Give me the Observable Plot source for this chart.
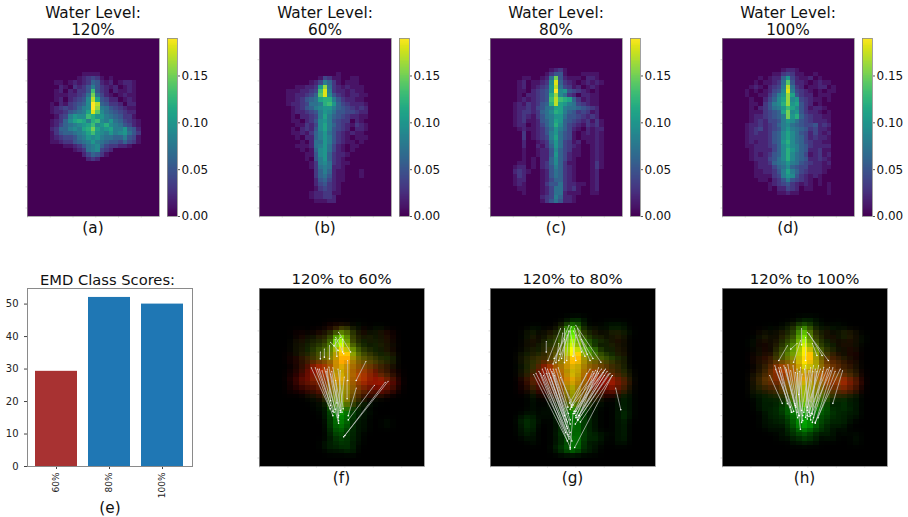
<!DOCTYPE html>
<html><head><meta charset="utf-8">
<script src="https://cdn.jsdelivr.net/npm/d3@7"></script>
<script src="https://cdn.jsdelivr.net/npm/@observablehq/plot@0.6"></script>
<style>
html,body{margin:0;padding:0;background:#fff}
#fig{position:relative;width:908px;height:517px;overflow:hidden;font-family:"DejaVu Sans",sans-serif;color:#111}
#fig svg{position:absolute;background:transparent;max-width:none}
.t{position:absolute;text-align:center;font-size:15.3px;line-height:17px;white-space:nowrap;transform:translateX(-50%)}
</style></head><body><div id="fig"></div>
<script>
// Heatmap cells: rows of columns 5..24, starting at row firstRow; each char = value in 0.01 (base 36)
const firstCol = 5, nCols = 29, nRows = 42;
const level120 = {firstRow: 8, rows: [
"00000001111000000000","00000012343101000000","01101212365212012210","00210323585321201210",
"012021335d5320211210","011122347f7421012110","012023459hb542201210","102134569jh653320220",
"123434689jg875432110","12235678bie976543220","01348a99dcaa87653310","12369bcb8cd98a764321",
"1246789abd9ac9875421","2366898bcfb9ab88a652","13566789bda98a89a753","12344578a9a877668541",
"112335678a8765546431","00011235789643322100","00000123789432000000","00000002465310000000","00000000232000000000"]};
const level60 = {firstRow: 8, rows: [
"00000000000010000000","00000000143110011000","00000012486310111000","00011223ag7321211100",
"01112234di8322121100","01122346ei9532122110","01123567bcc853221100","012234778cda64322210",
"001235689aa865432320","001223458a9755443220","001022348b8654322110","001102359a8543302100",
"000113249b8643213210","001023259b8543202210","001121368a7532121100","000102268a8532101110",
"000010277a8532110100","000111278a7421011000","000010169a7421010000","000001159a6322100000",
"000001058a6321000000","00000013897321100000","00000013787221000000","00000003686211000100",
"00000003675211000100","00000002564211000000","00000002453210000000","00000001343210000000",
"00000012233110000000","00000012233200000000","00000001112200000000"]};
const level80 = {firstRow: 7, rows: [
"00000000123100000000","00000001355100011110","001100127f5211102210","012011239i6321012121",
"01201234ah7431201210","01102345aj9a54321010","01022345cg9732022110","01212345dhdcb6312110",
"12132356chba87432110","122324578bb877654320","123323679cb865343120","123213578aa755432320",
"123112568ba654323131","122012468c9643213231","012112357a8642102122","003012358a7541012121",
"003012348b7541011121","002001237a7431201121","002002136a7432100121","00100122596431100121",
"001001225a6421100121","00101022696421000121","01101023696311000131","12201023586321000131",
"23210012576321000120","13200012576321000120","12200012466321000120","12100013557322110120",
"01100012477323100120","00100012477211100110","00000023486221000000","00000013575221000000"]};
const level100 = {firstRow: 7, rows: [
"00000000122100000000","00000011343110010000","000101226a4211201000","001011237e5221012110",
"012102348h7320112201","101012459i8432101011","10011358agb532201110","01002469bg9a43211010",
"01103589cgab53201000","01023578adb953122100","01113456bf9a53221010","012234568fac64322110",
"012324458a9754322210","12232346897654452320","123423458a8765342210","123223569b9754242120",
"122223569b9764232210","12122356ac9764322110","112223469b9865322220","012222469ca865223110",
"012123569c9764123120","012224579c9765223210","001223678a8754322120","00122246796544222110",
"001122358b8643222100","001111348a9532121000","00011023585432101000","00000123453212101010",
"00000102243201100010","00000001121100000010"]};

// Match lines between the 120% map and the other map: [col1,row1,col2,row2]
const lines60 = [[22.6,21.9,14.8,35],[22.1,22.1,15,34.7],[20.2,22.8,15.6,31],[18.7,17.2,17,21.7],[17,23.5,15.6,30],
[9.1,18.7,12.4,28.4],[9.8,18.7,12.9,30],[10.5,19,12.5,27.6],[11.4,18.7,13.9,31.8],[12.2,18.5,13.8,30.4],[12.9,18.7,14.5,29.2],
[13.8,19,14.7,28.4],[14.2,19.4,13.9,30],[11,19.4,13.1,29.2],[11.9,19,12.5,26.5],[12.5,20.2,14.2,28.8],[13.4,21.7,13.9,31.2],
[14.9,20.9,14.2,29.2],[15.4,21.7,15.4,26],[13.9,10.3,16,15],[13.4,11.5,14.8,15.4],[12.5,12.7,13.8,14.6],[14.2,11.5,13.1,13.5],
[12.3,13.5,12.3,16.6],[11.4,14.3,11.4,16.2],[10.7,15,10.7,16.6],[15.5,17,15.5,21.7],[10.2,19,12.9,29],[11.7,19.5,13.3,28.5],[12.7,19.5,13.6,27],[13.3,12,13.6,16],[14.6,12,14.6,15]];
const lines80 = [[7.6,20.3,13.5,36],[8.5,19.5,14,37.5],[9.1,19,13.8,35],[9.6,18.7,13.5,33],[10,19,13.3,31],[10.5,19,14,32],
[11,19,13.7,29.5],[10.6,21,13,30],[11.5,19,13.6,28],[9.3,20.5,13.2,34],[11.9,18.7,14.3,28],[11,20,14,34],[12.3,21,14.5,27.5],[10.3,20,14.3,36],
[21.4,20.5,15.8,31.5],[21,20,14.9,32],[20.5,19.5,15.2,30.5],[20,19.3,14.7,29],[19.5,19,14.2,28],[19,18.7,15.3,31],[18.5,19.3,14.2,27.5],
[18,19.5,14.6,29.5],[17.5,19,13.9,27],[21.4,20.5,14.8,37.5],[16.9,20,14,28.5],[20,20.5,15.6,30],[19,20,15,30],[14.5,29.5,14,37.9],[22,23.5,22.9,28.6],
[12.3,9.5,10.1,17],[13.8,8.7,11,17.8],[15,8.7,19.4,17.4],[13,9.5,13,17.5],[14.2,9,12,17],[14.8,9.5,16,15],[15.5,11,17.5,17],[14,10,15,17],
[13.5,11,12.5,16.5],[16,12,18,16.5],[15,11,14.5,16],[12,13,11.5,17.5],[9.8,12.5,9.8,15],
[8,20,13.8,35.5],[8.8,20,13.6,34.5],[9.8,20,13.4,32.5],[10.8,19.6,13.5,31.5],[11.2,20.5,14,31],[20.7,20.2,15.4,31],[19.8,19.8,15,29],[18.8,19.6,14.8,29.5],[20.2,19,15.5,30],[18.2,20,15,30.5],
[12.7,10.5,12.2,15.5],[13.7,10,13.4,17],[14.6,10,16.6,16],[15.3,9.5,17,15.5],[13,12,11.2,16.5]];
const lines100 = [[8.3,20.5,10.5,27.1],[9.2,18.2,12.1,29.2],[9.9,18.7,11.4,27.2],[10.8,18.2,13.1,29.2],[11.5,18,12.8,27.6],[12.4,18.2,13.7,33.2],
[13.1,19,13.9,31.6],[13.7,18.6,14.1,30],[14.6,18.2,14.9,30.8],[16,18.2,14.3,29.2],[16.9,18.2,14.9,30],[17.8,18.6,15.8,31.6],[19.4,18.7,16.3,31.8],
[20.7,19,16.3,31.6],[21.1,19.4,19.4,27.1],[19,19.4,15.5,30],[18.4,19,15.2,29.2],[9.3,19,11.9,28],[10.2,18.6,12.2,29.2],[11.1,18.7,12.7,27.2],
[12,19.4,13.4,30],[12.8,19.8,14.1,31.2],[15.5,18.7,14.6,30.4],[16.3,19,15.8,29.6],[17.2,19,14.9,28],[15.2,19.4,13.9,28.8],[14,20.2,13.4,25],
[14.9,10.3,18.6,17],[15.2,10.7,17.5,15.8],[13.7,12.3,12.5,17.4],[11.4,13.5,9.9,17],[14.6,11.5,14.6,17],[13.9,9.5,13.9,13.3],[13.1,13,12,14.3],[15.8,13,16.6,15.8],
[10,19.5,12.5,29],[11.2,19.2,13.2,30.5],[13.5,19.5,13.5,30],[14.4,19,15.5,31],[16.6,19.5,15.2,30.2],[17.6,19.6,15.6,29.5],[18.8,18.6,16,30.5],[19.8,19.5,16.8,30.5],[15.9,19.6,14.9,28.8],[13.2,20,12.9,28]];

const scoreClasses = ["60%","80%","100%"];
const scoreValues = [29.3,52.05,50];
const scoreColors = ["#a83232","#1f77b4","#1f77b4"];
const colorTicks = [0,0.05,0.1,0.15];
const topTitles = ["120%","60%","80%","100%"];

const fig = document.getElementById("fig");
function cellsOf(level){
  const m = new Map();
  level.rows.forEach((s,i)=>{ [...s].forEach((ch,j)=>{ m.set((j+firstCol)+","+(i+level.firstRow), parseInt(ch,36)/100); }); });
  return m;
}
// The composites in the reference are softer than the maps above: a light 3x3 smoothing of the same cells
function softened(m){
  const w=[1,3,1], out=new Map();
  for(const [c,r] of d3.cross(d3.range(nCols),d3.range(nRows))){
    let s=0;
    for(let i=-1;i<=1;i++)for(let j=-1;j<=1;j++) s+=w[i+1]*w[j+1]*(m.get((c+i)+","+(r+j))||0);
    out.set(c+","+r,s/25);
  }
  return out;
}
const allCells = d3.cross(d3.range(nCols), d3.range(nRows));
const xTicks = d3.range(0,nCols,5), yTicks = d3.range(5,nRows,5);
const tickMarks = (W,H)=>[
  Plot.ruleX(xTicks,{x:d=>d,stroke:"#d8d8d8",insetTop:H,insetBottom:-1.5}),
  Plot.ruleY(yTicks,{y:d=>d,stroke:"#d8d8d8",insetRight:W,insetLeft:-1.5})
];
function place(svg,l,t){ svg.style.left=l+"px"; svg.style.top=t+"px"; fig.appendChild(svg); }
function label(txt,cx,y,size){ const d=document.createElement("div"); d.className="t"; d.style.left=cx+"px"; d.style.top=y+"px"; if(size) d.style.fontSize=size+"px"; d.innerHTML=txt; fig.appendChild(d); }

function heat(level,x0){
  const m = cellsOf(level);
  const data = allCells.map(([c,r])=>({c,r,v:m.get(c+","+r)||0}));
  place(Plot.plot({width:136,height:182,marginLeft:3,marginRight:1,marginTop:1,marginBottom:3,
    x:{domain:[0,nCols],axis:null},y:{domain:[nRows,0],axis:null},
    color:{type:"linear",scheme:"viridis",domain:[0,0.19]},
    marks:[
      Plot.rect(data,{x1:"c",x2:d=>d.c+1,y1:"r",y2:d=>d.r+1,fill:"v",shapeRendering:"crispEdges"}),
      ...tickMarks(132,178),
      Plot.frame({stroke:"#8a8a8a",strokeWidth:0.7})
    ]}),x0-3,37);
  const steps = d3.range(0,0.19,0.001);
  place(Plot.plot({width:52,height:186,marginLeft:1,marginRight:41,marginTop:1,marginBottom:7,
    x:{domain:[0,1],axis:null},y:{domain:[0,0.19],axis:null},
    color:{type:"linear",scheme:"viridis",domain:[0,0.19]},
    marks:[
      Plot.rect(steps,{x1:0,x2:1,y1:d=>d,y2:d=>d+0.001,fill:d=>d,shapeRendering:"crispEdges"}),
      Plot.axisY({ticks:colorTicks,anchor:"right",tickFormat:".2f",tickSize:2,tickPadding:2,label:null,fontSize:12,color:"#111",stroke:"#555"}),
      Plot.frame({stroke:"#8a8a8a",strokeWidth:0.8})
    ]}),x0+139,37);
}
function composite(base,other,lines,x0){
  const a=softened(cellsOf(base)), b=softened(cellsOf(other));
  const ch=v=>Math.min(255,Math.round(v*1750));
  const data = allCells.map(([c,r])=>({c,r,fill:`rgb(${ch(a.get(c+","+r)||0)},${ch(b.get(c+","+r)||0)},0)`}));
  place(Plot.plot({width:169,height:182,marginLeft:3,marginRight:1,marginTop:1,marginBottom:3,
    x:{domain:[0,nCols],axis:null},y:{domain:[nRows,0],axis:null},color:{type:"identity"},
    marks:[
      Plot.rect(data,{x1:"c",x2:d=>d.c+1,y1:"r",y2:d=>d.r+1,fill:"fill",shapeRendering:"crispEdges"}),
      Plot.link(lines,{x1:d=>d[0],y1:d=>d[1],x2:d=>d[2],y2:d=>d[3],stroke:"#cfcfcf",strokeWidth:0.7}),
      Plot.dot(lines,{x:d=>d[2],y:d=>d[3],r:0.8,fill:"#fff"}),
      Plot.dot(lines,{x:d=>d[0],y:d=>d[1],r:0.5,fill:"#fff"}),
      ...tickMarks(165,178),
      Plot.frame({stroke:"#8a8a8a",strokeWidth:0.8})
    ]}),x0-3,287);
}
const X0=[27,259,490,722], L=[level120,level60,level80,level100];
L.forEach((lv,i)=>{ heat(lv,X0[i]); label("Water Level:<br>"+topTitles[i],X0[i]+66,5); label("("+"abcd"[i]+")",X0[i]+66,220); });
[[level60,lines60,259,"120% to 60%","f"],[level80,lines80,490,"120% to 80%","g"],[level100,lines100,722,"120% to 100%","h"]].forEach(([lv,ln,x,t,k])=>{
  composite(level120,lv,ln,x); label(t,x+82.5,271,14.9); label("("+k+")",x+82.5,470);
});
// Bar chart
const scores = scoreClasses.map((k,i)=>({k,v:scoreValues[i],col:scoreColors[i]}));
place(Plot.plot({width:200,height:225,marginLeft:27,marginRight:8,marginTop:2,marginBottom:45,
  x:{domain:scoreClasses,paddingInner:0.2,paddingOuter:0.14,axis:null},
  y:{domain:[0,54.8],axis:null},color:{type:"identity"},
  marks:[
    Plot.barY(scores,{x:"k",y:"v",fill:"col"}),
    Plot.axisY({ticks:d3.range(0,51,10),anchor:"left",tickSize:3,fontSize:10,label:null,color:"#222",stroke:"#444"}),
    Plot.axisX({anchor:"bottom",tickRotate:-90,tickSize:3,tickPadding:3,fontSize:9,label:null,color:"#222",stroke:"#444",textAnchor:"end"}),
    Plot.frame({stroke:"#8a8a8a",strokeWidth:1})
  ]}),0,286);
label("EMD Class Scores:",107.5,271,14.7);
label("(e)",110,500);
document.querySelectorAll("#fig svg").forEach(s=>s.style.fontFamily='"DejaVu Sans"');
</script></body></html>
